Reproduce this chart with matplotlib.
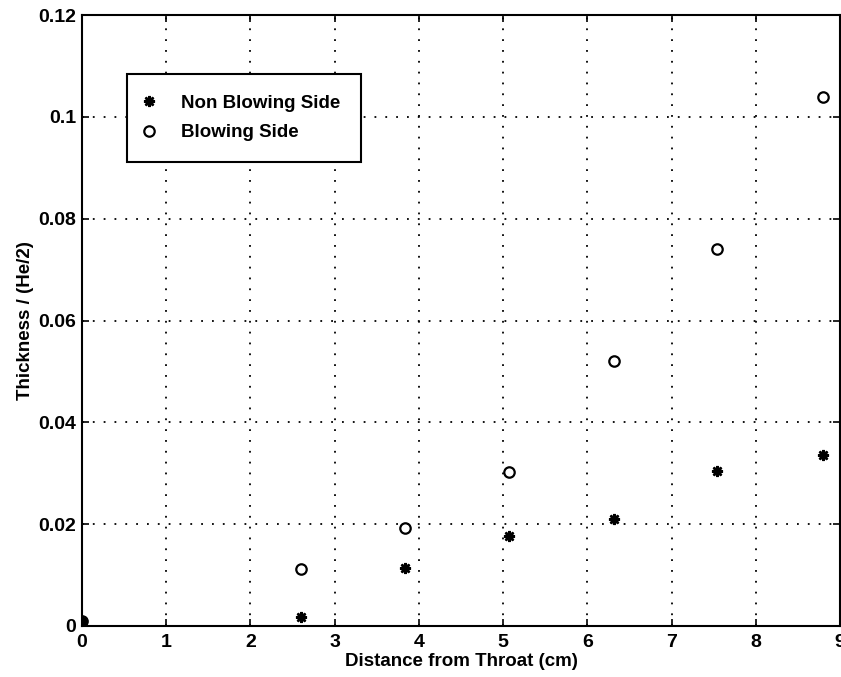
import matplotlib.pyplot as plt

plt.rcParams['font.family'] = ['Liberation Sans', 'DejaVu Sans']
plt.rcParams['font.weight'] = 'bold'

# distance from throat (cm)
x = [0, 2.60, 3.84, 5.07, 6.32, 7.54, 8.80]
non_blowing = [0.001, 0.0018, 0.0113, 0.0177, 0.0210, 0.0305, 0.0335]
blowing = [0.001, 0.0112, 0.0192, 0.0302, 0.0521, 0.0741, 0.1038]

fig = plt.figure(figsize=(8.41, 6.77), dpi=100)
ax = fig.add_axes([82 / 841, 51 / 677, 758 / 841, 611 / 677])

ax.plot(x, non_blowing, linestyle='none', marker=(8, 2, 0), markersize=8,
        markeredgewidth=1.8, color='black', label='Non Blowing Side')
ax.plot(x, blowing, linestyle='none', marker='o', markersize=7.5,
        markeredgewidth=1.6, markerfacecolor='none', color='black',
        label='Blowing Side')

ax.set_xlim(0, 9)
ax.set_ylim(0, 0.12)
ax.set_xticks(range(10))
ax.set_yticks([0, 0.02, 0.04, 0.06, 0.08, 0.1, 0.12])
ax.set_yticklabels(['0', '0.02', '0.04', '0.06', '0.08', '0.1', '0.12'])
ax.tick_params(direction='in', top=True, right=True, length=5, width=1.2,
               labelsize=14)
ax.tick_params(axis='x', pad=5.5)
ax.tick_params(axis='y', pad=4)
for s in ax.spines.values():
    s.set_linewidth(1.5)
ax.grid(True, linestyle=(0, (1, 5)), color='black', linewidth=1.3)

ax.set_xlabel('Distance from Throat (cm)', fontsize=13.5, fontweight='bold', labelpad=2)
ax.set_ylabel('Thickness / (He/2)', fontsize=13.5, fontweight='bold', labelpad=3)

leg = ax.legend(loc='upper left', bbox_to_anchor=(0.0594, 0.9034), borderaxespad=0,
                fancybox=False, framealpha=1, edgecolor='black', fontsize=13.5,
                handlelength=0.1, handletextpad=1.7, borderpad=1.1, labelspacing=0.65)
leg.get_frame().set_linewidth(1.5)

plt.savefig('out.png', dpi=100)
